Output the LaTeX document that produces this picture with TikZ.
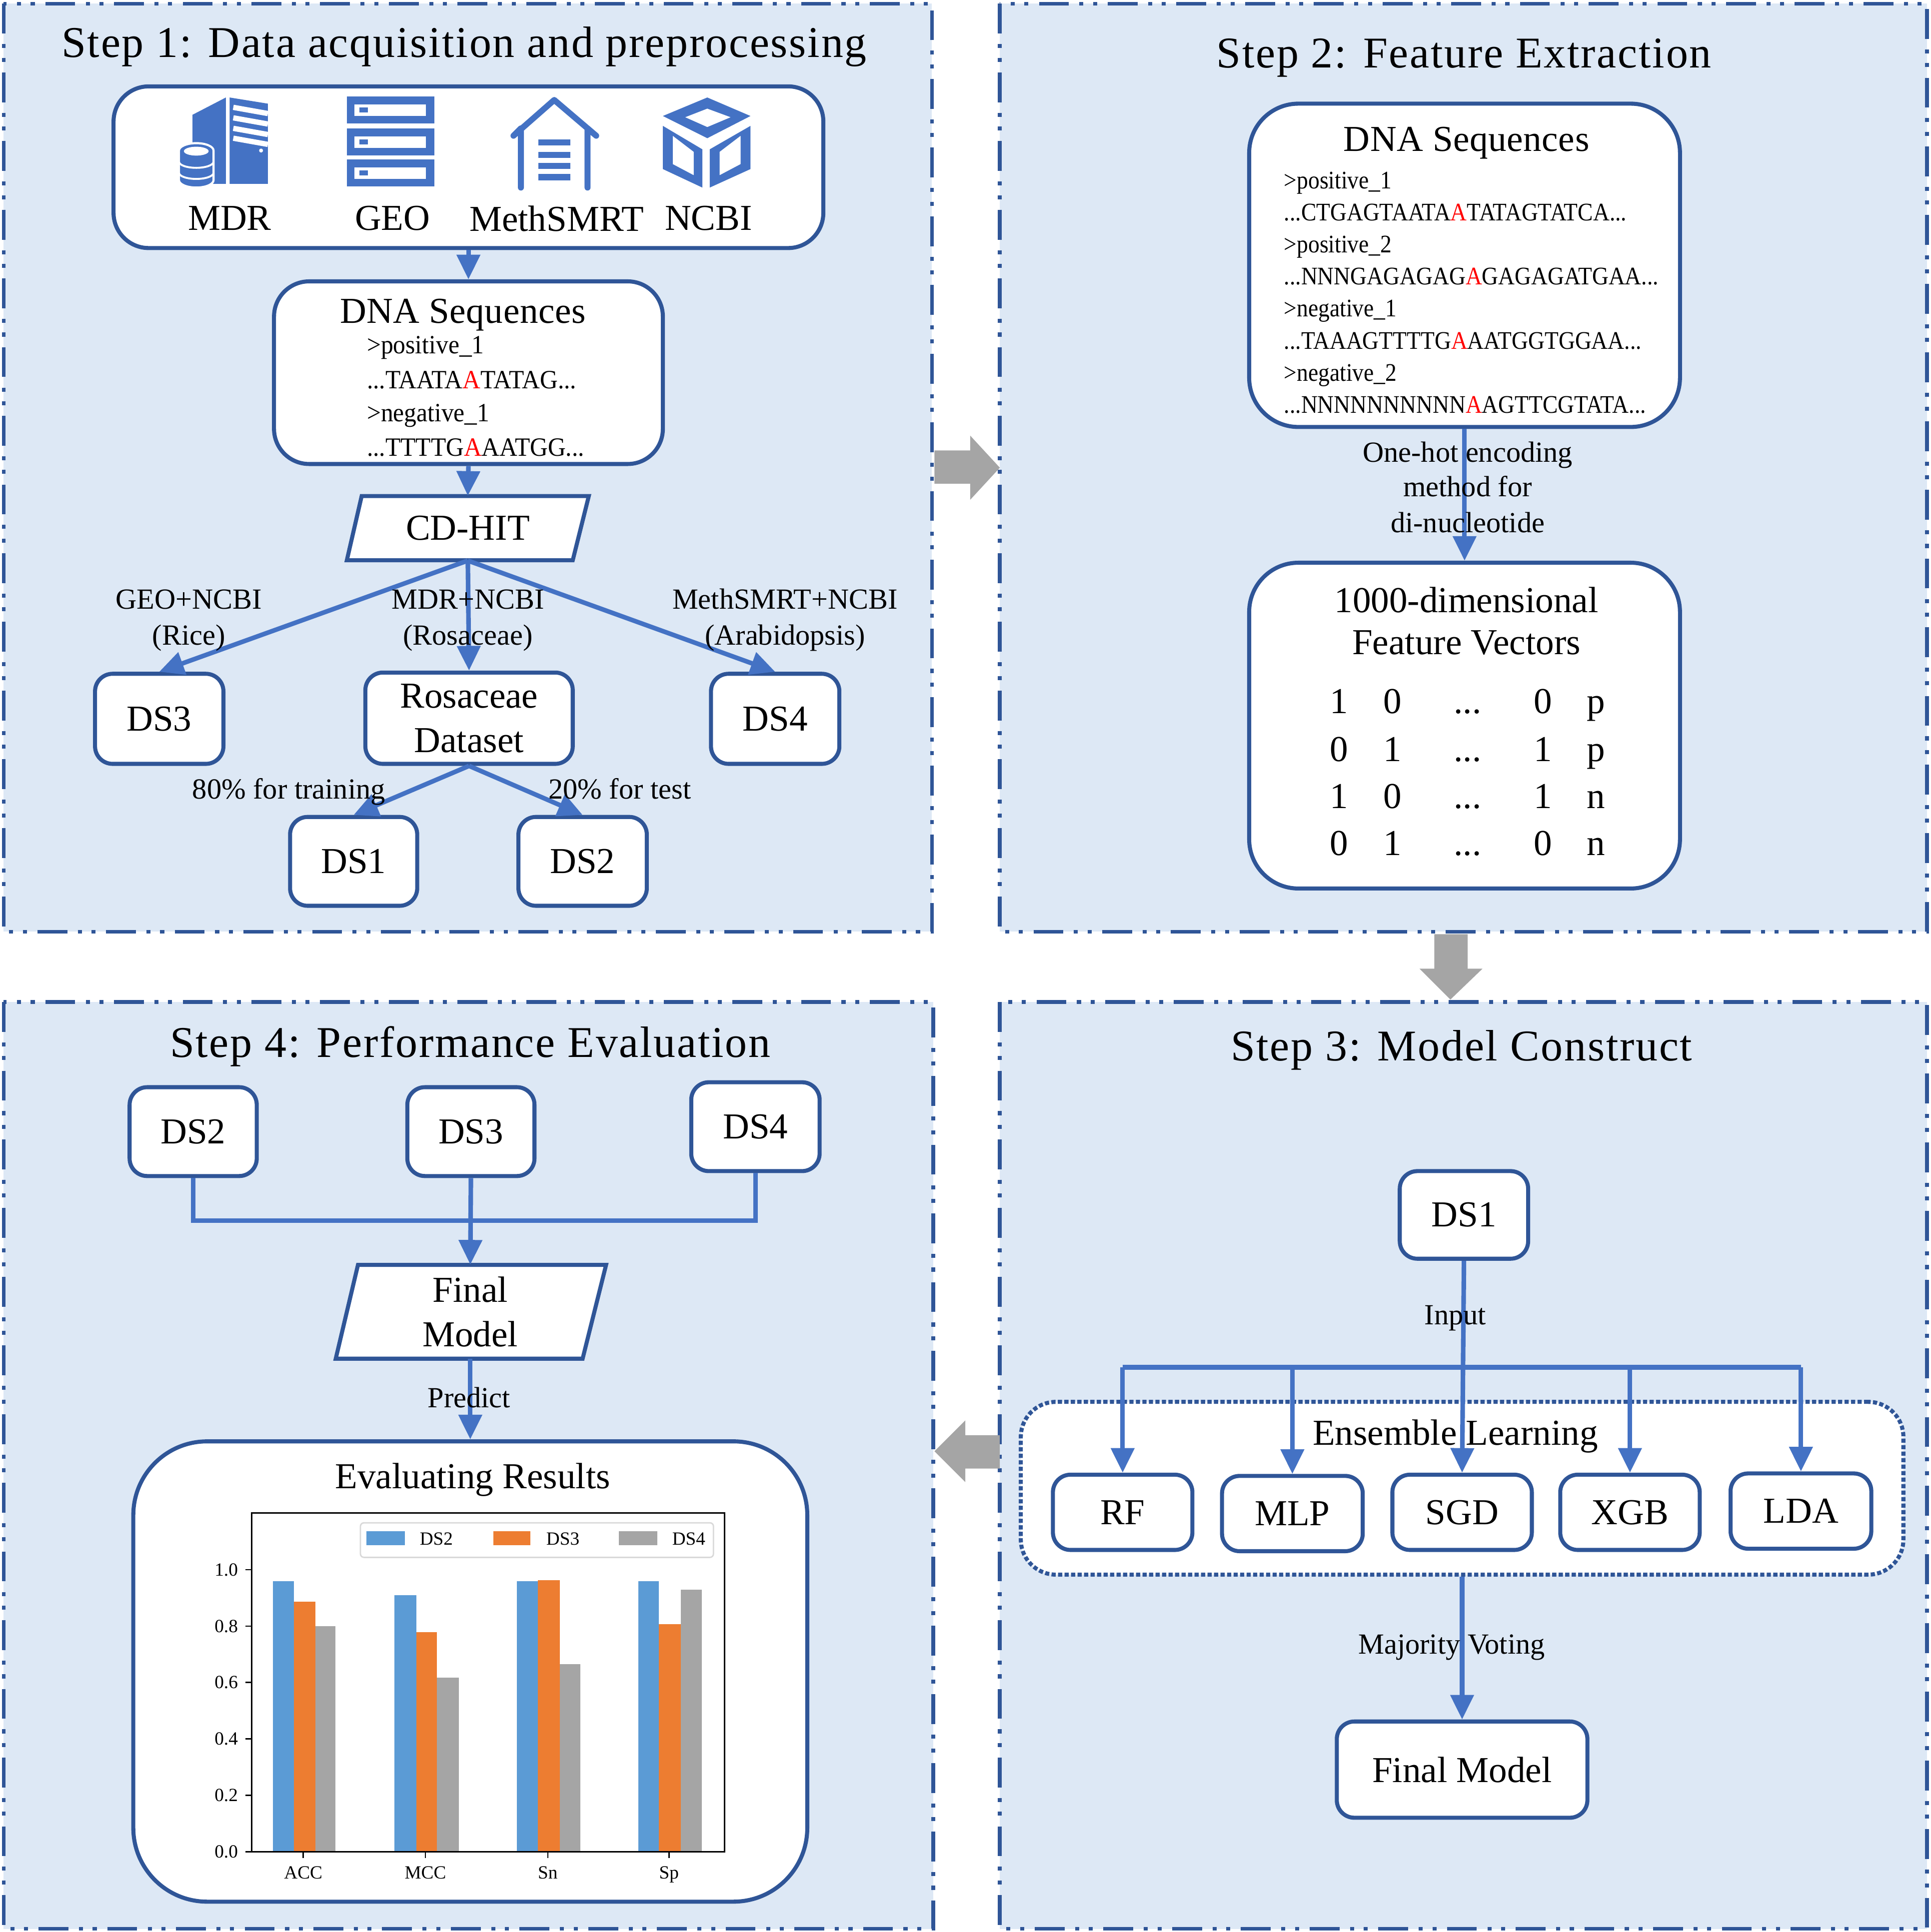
\documentclass[tikz,border=0pt]{standalone}
\usepackage{fontspec}
\setmainfont{Liberation Serif}
\newfontfamily\titlefam[LetterSpace=3.2]{Liberation Serif}
\newfontfamily\bigfam[LetterSpace=0.8]{Liberation Serif}
\newfontfamily\seqfam[FakeStretch=0.94]{Liberation Serif}
\newfontfamily\seqbfam[FakeStretch=0.90]{Liberation Serif}
\usetikzlibrary{arrows.meta}
\definecolor{panelbg}{HTML}{DDE8F5}
\definecolor{bord}{HTML}{2F5597}
\definecolor{conn}{HTML}{4472C4}
\definecolor{bluebar}{HTML}{5B9BD5}
\definecolor{orangebar}{HTML}{ED7D31}
\definecolor{graybar}{HTML}{A5A5A5}
\newcommand\un{0.024693cm}
\newcommand\fTitle{\titlefam\fontsize{25}{28}\selectfont}
\newcommand\fBig{\rmfamily\fontsize{20.8}{25.2}\selectfont}
\newcommand\fSmall{\rmfamily\fontsize{16.6}{20}\selectfont}
\newcommand\fTiny{\rmfamily\fontsize{10.6}{12}\selectfont}
\newcommand\RA{\textcolor{red}{A}}
\tikzset{
  panel/.style={fill=panelbg,draw=bord,line width=2.2pt,dash pattern=on 17pt off 6pt on 2.3pt off 5.5pt on 2.3pt off 6pt},
  rbox/.style={draw=bord,fill=white,line width=2.3pt,inner sep=0pt,font=\fBig,align=center},
  para/.style={draw=bord,fill=white,line width=2.3pt},
  arr/.style={draw=conn,line width=2.6pt,-{Triangle[length=14pt,width=13pt]}},
  line/.style={draw=conn,line width=2.6pt},
  titlet/.style={inner sep=0pt,font=\fTitle},
  bigt/.style={inner sep=0pt,font=\fBig},
  matt/.style={bigt,text height=14pt,text depth=0pt},
  lab/.style={inner sep=0pt,font=\fSmall,text height=11pt,text depth=2pt},
  seq/.style={inner sep=0pt,anchor=west,text height=10pt,text depth=2pt,font=\seqfam\fontsize{15}{18}\selectfont},
  seqb/.style={inner sep=0pt,anchor=west,text height=10pt,text depth=2pt,font=\seqbfam\fontsize{14.4}{18}\selectfont},
  tick/.style={inner sep=0pt,font=\fTiny},
  gblock/.style={fill=graybar},
  icon/.style={fill=conn},
}
\newcommand\boxn[7]{\node[rbox,rounded corners=#6,minimum width={(#4-#2)*\un},minimum height={(#5-#3)*\un}] (#1) at ({(#2+#4)/2},{(#3+#5)/2}) {#7};}
\newcommand\barr[4]{\fill[#1] (#2,1500.6) rectangle (#3,{1500.6-228.6*#4});}
\begin{document}
\begin{tikzpicture}[x=0.024693cm,y=-0.024693cm]
\useasboundingbox (0,0) rectangle (1564,1565.6);
% panels
\draw[panel] (3,3) rectangle (755,755);
\draw[panel] (810,3) rectangle (1561,755);
\draw[panel] (3,812) rectangle (756,1563);
\draw[panel] (810,812) rectangle (1561,1563);
% gray block arrows
\fill[gblock] (757,365) -- (786,365) -- (786,353) -- (810,379) -- (786,405) -- (786,392) -- (757,392) -- cycle;
\fill[gblock] (1162,757) -- (1189,757) -- (1189,785) -- (1201,785) -- (1175,810) -- (1150,785) -- (1162,785) -- cycle;
\fill[gblock] (810,1163) -- (782,1163) -- (782,1151) -- (757,1176) -- (782,1201) -- (782,1190) -- (810,1190) -- cycle;
%%%% Step 1
\node[titlet] at (376,38) {Step 1: Data acquisition and preprocessing};
\boxn{src}{92}{70}{667}{201}{20pt}{}
% MDR icon
\fill[icon] (156,93) -- (183,79) -- (183,149) -- (156,149) -- cycle;
\fill[icon] (186,79) -- (217,84) -- (217,149) -- (186,149) -- cycle;
\foreach \yy in {87,95.5,104,112} \draw[white,line width=3pt] (189,\yy) -- (217,\yy+5);
\fill[white] (211.5,122) circle (1.6);
\filldraw[fill=conn,draw=white,line width=1.2pt] (145,122) arc[start angle=180,end angle=360,x radius=14,y radius=6] -- (173,146) arc[start angle=0,end angle=180,x radius=14,y radius=6] -- cycle;
\fill[white] (159,122.5) ellipse (10 and 3.6);
\draw[white,line width=1.1pt] (145,131) arc[start angle=180,end angle=0,x radius=14,y radius=5];
\draw[white,line width=1.1pt] (145,140) arc[start angle=180,end angle=0,x radius=14,y radius=5];
% GEO icon
\foreach \yy in {78,104,129}{
  \fill[icon] (281,\yy) rectangle (352,\yy+22);
  \fill[white] (287,\yy+6.5) rectangle (345,\yy+16);
  \fill[icon] (291,\yy+9) rectangle (298,\yy+13);
}
% MethSMRT icon
\draw[conn,line width=3.4pt,line cap=round,line join=round] (422,152) -- (422,104) -- (416,110) -- (449,81) -- (483,110) -- (476,104) -- (476,152);
\foreach \yy in {113,123,132,141} \fill[icon] (436,\yy) rectangle (462,\yy+5);
% NCBI icon
\fill[icon,even odd rule] (573,79) -- (608,94) -- (573,112) -- (537,94) -- cycle (573,88) -- (592,95) -- (573,103) -- (555,95) -- cycle;
\fill[icon,even odd rule] (537,102) -- (569,121) -- (569,152) -- (537,137) -- cycle (545,110) -- (562,123) -- (562,142) -- (545,133) -- cycle;
\fill[icon,even odd rule] (608,102) -- (575,121) -- (575,152) -- (608,137) -- cycle (600,110) -- (583,123) -- (583,142) -- (600,133) -- cycle;
\node[bigt] at (186,177) {MDR};
\node[bigt] at (318,177) {GEO};
\node[bigt] at (451,177) {MethSMRT};
\node[bigt] at (574,177) {NCBI};
\boxn{dna}{222}{228}{537}{376}{20pt}{}
\node[bigt,font=\bigfam\fontsize{20.8}{25.2}\selectfont] at (375,255) {DNA Sequences};
\node[seq] at (297,281) {>positive\_1};
\node[seq] at (297,309) {...TAATA\RA{}TATAG...};
\node[seq] at (297,336) {>negative\_1};
\node[seq] at (297,364) {...TTTTG\RA{}AATGG...};
\draw[para] (293,402) -- (477,402) -- (464,454) -- (281,454) -- cycle;
\node[inner sep=0pt,font=\fBig,minimum width={183*\un},minimum height={52*\un}] (cd) at (379,428) {CD-HIT};
\boxn{ds3a}{77}{546}{181}{619}{10pt}{DS3}
\boxn{rose}{296}{545}{464}{619}{10pt}{Rosaceae\\Dataset}
\boxn{ds4a}{576}{546}{680}{619}{10pt}{DS4}
\boxn{ds1a}{235}{662}{338}{734}{10pt}{DS1}
\boxn{ds2a}{420}{662}{524}{734}{10pt}{DS2}
\draw[arr] (src.south) -- (dna.north);
\draw[arr] (dna.south) -- (cd.north);
\draw[arr] (cd.south) -- (ds3a.north);
\draw[arr] (cd.south) -- (rose.north);
\draw[arr] (cd.south) -- (ds4a.north);
\draw[arr] (rose.south) -- (ds1a.north);
\draw[arr] (rose.south) -- (ds2a.north);
\node[lab] at (153,487) {GEO+NCBI};
\node[lab] at (153,516) {(Rice)};
\node[lab] at (379,487) {MDR+NCBI};
\node[lab] at (379,516) {(Rosaceae)};
\node[lab] at (636,487) {MethSMRT+NCBI};
\node[lab] at (636,516) {(Arabidopsis)};
\node[lab] at (234,641) {80\% for training};
\node[lab] at (502,641) {20\% for test};
%%%% Step 2
\node[titlet] at (1186,47) {Step 2: Feature Extraction};
\boxn{dnab}{1012}{84}{1361}{346}{28pt}{}
\node[bigt,font=\bigfam\fontsize{20.8}{25.2}\selectfont] at (1188,116) {DNA Sequences};
\node[seqb] at (1040,147) {>positive\_1};
\node[seqb] at (1040,173) {...CTGAGTAATA\RA{}TATAGTATCA...};
\node[seqb] at (1040,199) {>positive\_2};
\node[seqb] at (1040,225) {...NNNGAGAGAG\RA{}GAGAGATGAA...};
\node[seqb] at (1040,251) {>negative\_1};
\node[seqb] at (1040,277) {...TAAAGTTTTG\RA{}AATGGTGGAA...};
\node[seqb] at (1040,303) {>negative\_2};
\node[seqb] at (1040,329) {...NNNNNNNNNN\RA{}AGTTCGTATA...};
\boxn{fv}{1012}{456}{1361}{720}{28pt}{}
\draw[arr] (dnab.south) -- (fv.north);
\node[lab] at (1189,368) {One-hot encoding};
\node[lab] at (1189,396) {method for};
\node[lab] at (1189,425) {di-nucleotide};
\node[bigt] at (1188,486) {1000-dimensional};
\node[bigt] at (1188,521) {Feature Vectors};
\foreach \yy/\a/\b/\c/\d in {568/1/0/0/p,607/0/1/1/p,645/1/0/1/n,683/0/1/0/n}{
  \node[matt] at (1085,\yy) {\a};
  \node[matt] at (1128,\yy) {\b};
  \node[matt] at (1189,\yy) {...};
  \node[matt] at (1250,\yy) {\c};
  \node[matt] at (1293,\yy) {\d};
}
%%%% Step 3
\node[titlet] at (1184,851) {Step 3: Model Construct};
\node[rbox,rounded corners=20pt,dash pattern=on 2.4pt off 1.3pt,minimum width={715*\un},minimum height={140*\un}] (ens) at (1184.5,1206) {};
\boxn{ds1b}{1134}{949}{1238}{1020}{10pt}{DS1}
\boxn{rf}{853}{1195}{966}{1256}{10pt}{RF}
\boxn{mlp}{990}{1196}{1104}{1257}{10pt}{MLP}
\boxn{sgd}{1128}{1195}{1241}{1256}{10pt}{SGD}
\boxn{xgb}{1264}{1195}{1377}{1256}{10pt}{XGB}
\boxn{lda}{1402}{1194}{1516}{1255}{10pt}{LDA}
\boxn{fm}{1083}{1395}{1286}{1473}{10pt}{Final Model}
\coordinate (bj) at (1185,1108);
\draw[arr] (ds1b.south) -- (sgd.north);
\draw[line] (rf.north |- bj) -- (lda.north |- bj);
\draw[arr] (rf.north |- bj) -- (rf.north);
\draw[arr] (mlp.north |- bj) -- (mlp.north);
\draw[arr] (xgb.north |- bj) -- (xgb.north);
\draw[arr] (lda.north |- bj) -- (lda.north);
\draw[arr] (ens.south) -- (fm.north);
\node[lab] at (1179,1067) {Input};
\node[bigt] at (1179,1164) {Ensemble Learning};
\node[lab] at (1176,1334) {Majority Voting};
%%%% Step 4
\node[titlet] at (381,848) {Step 4: Performance Evaluation};
\boxn{ds2c}{105}{881}{208}{953}{10pt}{DS2}
\boxn{ds3c}{330}{881}{433}{953}{10pt}{DS3}
\boxn{ds4c}{560}{877}{664}{949}{10pt}{DS4}
\draw[para] (290,1025) -- (491,1025) -- (472,1101) -- (272,1101) -- cycle;
\node[inner sep=0pt,font=\fBig,align=center,minimum width={200*\un},minimum height={76*\un}] (fp) at (381,1063) {Final\\Model};
\boxn{evalb}{108}{1168}{654}{1541}{42pt}{}
\coordinate (jn) at (381,989);
\draw[line] (ds2c.south) |- (jn);
\draw[line] (ds4c.south) |- (jn);
\draw[arr] (ds3c.south) -- (fp.north);
\draw[arr] (fp.south) -- (evalb.north);
\node[lab] at (380,1134) {Predict};
\node[bigt] at (383,1199) {Evaluating Results};
% chart
\barr{bluebar}{221}{238}{0.959}
\barr{orangebar}{238}{255.4}{0.886}
\barr{graybar}{255.4}{271.7}{0.80}
\barr{bluebar}{319.4}{337.2}{0.91}
\barr{orangebar}{337.2}{353.9}{0.778}
\barr{graybar}{353.9}{371.7}{0.617}
\barr{bluebar}{418.6}{435.6}{0.959}
\barr{orangebar}{435.6}{453.5}{0.963}
\barr{graybar}{453.5}{470}{0.665}
\barr{bluebar}{517}{533.7}{0.959}
\barr{orangebar}{533.7}{551.5}{0.807}
\barr{graybar}{551.5}{568.6}{0.93}
\draw[black,line width=0.9pt] (204,1226) rectangle (587,1500.6);
\foreach \v/\t in {0/0.0,0.2/0.2,0.4/0.4,0.6/0.6,0.8/0.8,1/1.0}{
  \draw[black,line width=0.8pt] (204,{1500.6-228.6*\v}) -- (199,{1500.6-228.6*\v});
  \node[tick,anchor=east] at (193,{1500.6-228.6*\v}) {\t};
}
\foreach \xx/\t in {245.7/ACC,344.6/MCC,443.8/Sn,542/Sp}{
  \draw[black,line width=0.8pt] (\xx,1500.6) -- (\xx,1505.6);
  \node[tick,text height=7pt,text depth=2pt] at (\xx,1519) {\t};
}
\draw[draw=black!15,fill=white,line width=0.8pt,rounded corners=2pt] (292,1234) rectangle (578,1262);
\fill[bluebar] (297,1241) rectangle (328,1252);
\fill[orangebar] (399.6,1241) rectangle (429.8,1252);
\fill[graybar] (501.5,1241) rectangle (532.5,1252);
\node[tick] at (353.5,1247) {DS2};
\node[tick] at (456,1247) {DS3};
\node[tick] at (558,1247) {DS4};
\end{tikzpicture}
\end{document}
